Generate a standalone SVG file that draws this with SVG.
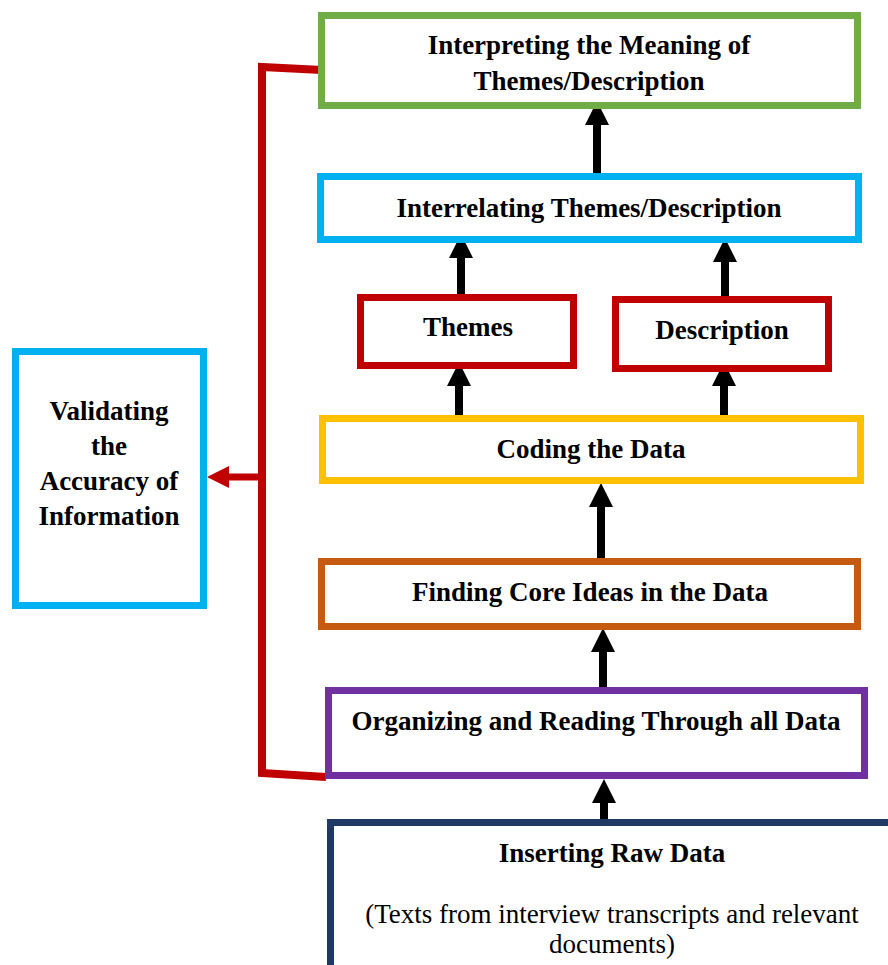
<svg xmlns="http://www.w3.org/2000/svg" width="888" height="965" viewBox="0 0 888 965">
<style>
.box{fill:#fff;stroke-width:7}
.t{font-family:"Liberation Serif","Times New Roman",serif;font-weight:bold;font-size:27px;fill:#000;text-anchor:middle}
.r{font-family:"Liberation Serif","Times New Roman",serif;font-size:27px;fill:#000;text-anchor:middle}
.arr{stroke:#000;stroke-width:8;fill:none;marker-end:url(#ah)}
</style>
<defs>
<marker id="ah" markerUnits="userSpaceOnUse" markerWidth="24" markerHeight="24" refX="0" refY="12" orient="auto" viewBox="0 0 24 24"><path d="M0,0 L24,12 L0,24 z" fill="#000"/></marker>
<marker id="rh" markerUnits="userSpaceOnUse" markerWidth="22" markerHeight="22" refX="0" refY="11" orient="auto" viewBox="0 0 22 22"><path d="M0,0 L22,11 L0,22 z" fill="#C00000"/></marker>
</defs>
<rect width="888" height="965" fill="#fff"/>
<g id="connectors">
<path class="arr" d="M597,177 V125"/>
<path class="arr" d="M461,296 V258"/>
<path class="arr" d="M725,298 V262"/>
<path class="arr" d="M459,419 V386"/>
<path class="arr" d="M724,419 V386"/>
<path class="arr" d="M601,561 V507"/>
<path class="arr" d="M603,689 V652"/>
<path class="arr" d="M604,837 V803"/>
<polyline points="322,70 262,67 262,773 326,777" fill="none" stroke="#C00000" stroke-width="8"/>
<path d="M262,477 H229" stroke="#C00000" stroke-width="7" fill="none" marker-end="url(#rh)"/>
</g>
<g id="interpreting">
<rect class="box" x="321.5" y="15.5" width="536" height="90" stroke="#70AD47"/>
<text class="t" x="589" y="54">Interpreting the Meaning of</text>
<text class="t" x="589" y="90">Themes/Description</text>
</g>
<g id="interrelating">
<rect class="box" x="320.5" y="176.5" width="538" height="63" stroke="#00B0F0"/>
<text class="t" x="589" y="217">Interrelating Themes/Description</text>
</g>
<g id="themes">
<rect class="box" x="360.5" y="297.5" width="213" height="68" stroke="#C00000"/>
<text class="t" x="468" y="336">Themes</text>
</g>
<g id="description">
<rect class="box" x="615.5" y="299.5" width="213" height="69" stroke="#C00000"/>
<text class="t" x="722" y="339">Description</text>
</g>
<g id="coding">
<rect class="box" x="322.5" y="418.5" width="538" height="62" stroke="#FFC000"/>
<text class="t" x="591" y="458">Coding the Data</text>
</g>
<g id="finding">
<rect class="box" x="321.5" y="561.5" width="536" height="65" stroke="#C55A11"/>
<text class="t" x="590" y="601">Finding Core Ideas in the Data</text>
</g>
<g id="organizing">
<rect class="box" x="328.5" y="690.5" width="536" height="85" stroke="#7030A0"/>
<text class="t" x="596" y="730">Organizing and Reading Through all Data</text>
</g>
<g id="inserting">
<rect class="box" x="330.5" y="822.5" width="600" height="200" stroke="#1F3864"/>
<text class="t" x="612" y="862">Inserting Raw Data</text>
<text class="r" x="612" y="923">(Texts from interview transcripts and relevant</text>
<text class="r" x="612" y="953">documents)</text>
</g>
<g id="validating">
<rect class="box" x="15.5" y="351.5" width="188" height="254" stroke="#00B0F0"/>
<text class="t" x="109" y="420">Validating</text>
<text class="t" x="109" y="455">the</text>
<text class="t" x="109" y="490">Accuracy of</text>
<text class="t" x="109" y="525">Information</text>
</g>
</svg>
